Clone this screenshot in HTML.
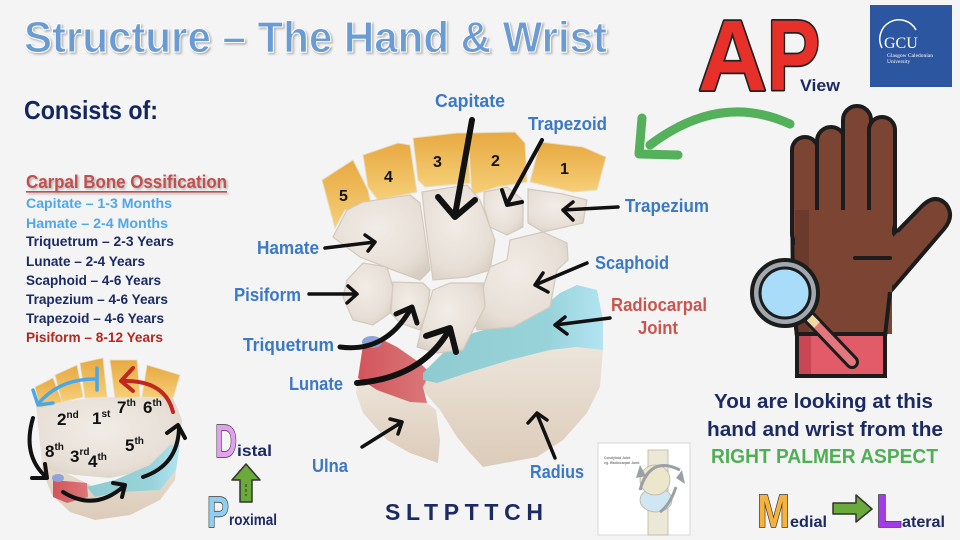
<!DOCTYPE html>
<html><head><meta charset="utf-8">
<style>
html,body{margin:0;padding:0;background:#f4f4f4;}
svg{display:block;}
text{font-family:"Liberation Sans",sans-serif;font-weight:bold;}
</style></head><body>
<svg width="960" height="540" viewBox="0 0 960 540" xmlns="http://www.w3.org/2000/svg">
<defs>
 <filter id="sh" x="-5%" y="-20%" width="110%" height="150%"><feDropShadow dx="1.5" dy="1.5" stdDeviation="1" flood-color="#777" flood-opacity="0.55"/></filter>
 <linearGradient id="gold" x1="0" y1="0" x2="0" y2="1"><stop offset="0" stop-color="#e7a941"/><stop offset="1" stop-color="#f6cf78"/></linearGradient>
 <radialGradient id="bn" cx="0.45" cy="0.4" r="0.7"><stop offset="0" stop-color="#f1ece6"/><stop offset="0.7" stop-color="#e7dfd6"/><stop offset="1" stop-color="#d6ccc1"/></radialGradient>
 <linearGradient id="rad" x1="0" y1="0" x2="0" y2="1"><stop offset="0" stop-color="#ece4da"/><stop offset="1" stop-color="#dccbb9"/></linearGradient>
 <linearGradient id="blu" x1="0" y1="0" x2="1" y2="0"><stop offset="0" stop-color="#8ecbd0"/><stop offset="0.7" stop-color="#99d3da"/><stop offset="1" stop-color="#b2e4f2"/></linearGradient>
 <linearGradient id="red" x1="0" y1="0" x2="1" y2="0"><stop offset="0" stop-color="#d2555b"/><stop offset="1" stop-color="#d9787a"/></linearGradient>
</defs>
<rect width="960" height="540" fill="#f4f4f4"/>

<!-- Title -->
<text x="24" y="52" font-size="44" fill="#6b9bd3" stroke="#ffffff" stroke-width="1" textLength="583" lengthAdjust="spacingAndGlyphs" filter="url(#sh)">Structure – The Hand &amp; Wrist</text>

<text x="24" y="119" font-size="26" fill="#132660" textLength="134" lengthAdjust="spacingAndGlyphs">Consists of:</text>

<!-- List -->
<g filter="url(#sh)">
<text x="26" y="188" font-size="18" fill="#c0504d" textLength="201" lengthAdjust="spacingAndGlyphs">Carpal Bone Ossification</text>
<rect x="26" y="191" width="201" height="1.6" fill="#c0504d"/>
</g>
<g font-size="14">
<text x="26" y="208" fill="#4ea7ea" textLength="146" lengthAdjust="spacingAndGlyphs">Capitate – 1-3 Months</text>
<text x="26" y="228" fill="#4ea7ea" textLength="142" lengthAdjust="spacingAndGlyphs">Hamate – 2-4 Months</text>
<text x="26" y="246" fill="#1b2a63" textLength="148" lengthAdjust="spacingAndGlyphs">Triquetrum – 2-3 Years</text>
<text x="26" y="266" fill="#1b2a63" textLength="119" lengthAdjust="spacingAndGlyphs">Lunate – 2-4 Years</text>
<text x="26" y="285" fill="#1b2a63" textLength="135" lengthAdjust="spacingAndGlyphs">Scaphoid – 4-6 Years</text>
<text x="26" y="304" fill="#1b2a63" textLength="142" lengthAdjust="spacingAndGlyphs">Trapezium – 4-6 Years</text>
<text x="26" y="323" fill="#1b2a63" textLength="138" lengthAdjust="spacingAndGlyphs">Trapezoid – 4-6 Years</text>
<text x="26" y="342" fill="#b5271f" textLength="137" lengthAdjust="spacingAndGlyphs">Pisiform – 8-12 Years</text>
</g>

<!-- ===== Central wrist image ===== -->
<g stroke="#e9ddc6" stroke-width="1">
<polygon fill="url(#gold)" points="322,180 353,160 368,190 372,210 345,210 335,228"/>
<polygon fill="url(#gold)" points="363,155 398,143 410,145 417,192 378,200 368,187"/>
<polygon fill="url(#gold)" points="413,138 457,133 467,133 470,183 425,187 418,180"/>
<polygon fill="url(#gold)" points="468,133 515,132 525,143 527,182 497,187 472,195"/>
<polygon fill="url(#gold)" points="540,142 583,147 606,157 597,190 573,192 530,182"/>
</g>
<!-- radius -->
<polygon fill="url(#rad)" points="422,380 443,377 470,370 510,360 550,350 577,347 603,350 600,387 587,413 563,440 537,457 483,467 470,453 457,437 440,410 425,393"/>
<!-- ulna -->
<polygon fill="url(#rad)" points="358,380 377,390 410,402 427,403 436,410 440,440 438,463 410,453 387,440 363,413 356,393"/>
<!-- red cartilage -->
<polygon fill="url(#red)" points="363,345 377,337 397,347 420,363 430,373 423,387 427,403 410,402 377,390 358,378"/>
<ellipse cx="372" cy="342" rx="10" ry="6" fill="#8fa3da"/>
<!-- blue band -->
<polygon fill="url(#blu)" points="423,373 443,353 473,333 510,323 543,307 560,293 577,285 597,290 603,320 603,350 577,347 550,350 510,360 467,373 437,383 423,380"/>
<!-- carpal bones -->
<g fill="url(#bn)" stroke="#d3c8bc" stroke-width="1.2">
<polygon points="333,237 347,210 363,202 410,195 420,203 430,270 420,280 393,270 360,257"/>
<polygon points="422,192 467,185 480,200 495,240 490,270 467,277 433,280 425,220"/>
<polygon points="484,192 507,187 523,200 523,227 507,235 490,227 484,207"/>
<polygon points="528,189 563,194 587,200 583,223 543,232 528,223"/>
<polygon points="510,240 543,232 567,243 568,260 557,270 550,307 513,327 477,330 473,317 490,267 507,260"/>
<polygon points="347,280 363,263 387,267 393,287 390,313 373,325 353,320 343,297"/>
<polygon points="393,282 423,283 430,290 427,313 420,330 400,323 391,313"/>
<polygon points="433,290 450,283 483,283 485,307 473,330 463,350 437,353 417,347 423,323"/>
</g>
<text x="339" y="201" font-size="16" fill="#111">5</text>
<text x="384" y="182" font-size="16" fill="#111">4</text>
<text x="433" y="167" font-size="16" fill="#111">3</text>
<text x="491" y="166" font-size="16" fill="#111">2</text>
<text x="560" y="174" font-size="16" fill="#111">1</text>

<!-- arrows -->
<g fill="none" stroke="#111" stroke-linecap="round" stroke-linejoin="round">
<path d="M472,120 L455,215" stroke-width="6"/>
<path d="M438,197 L455,217 L475,200" stroke-width="6"/>
<path d="M542,140 L507,204" stroke-width="4"/>
<path d="M502,190 L507,205 L522,202" stroke-width="4"/>
<path d="M618,207 L563,210 M573,202 L563,210 L573,220" stroke-width="3.5"/>
<path d="M325,248 L375,242 M365,235 L375,242 L368,251" stroke-width="3.5"/>
<path d="M309,294 L357,294 M348,286 L357,294 L347,303" stroke-width="3.5"/>
<path d="M587,263 L535,285 M543,273 L535,285 L548,292" stroke-width="3.5"/>
<path d="M610,318 L555,325 M565,317 L555,325 L567,334" stroke-width="3.5"/>
<path d="M340,347 Q385,353 410,310" stroke-width="5"/>
<path d="M396,314 L412,307 L417,323" stroke-width="5"/>
<path d="M357,383 Q420,378 448,332" stroke-width="6"/>
<path d="M426,336 L450,328 L456,352" stroke-width="6"/>
<path d="M362,447 L402,422 M390,419 L402,422 L398,434" stroke-width="3.5"/>
<path d="M555,458 L537,414 M528,423 L537,413 L547,420" stroke-width="3.5"/>
</g>

<!-- labels -->
<g fill="#3b78c6">
<text x="435" y="107" font-size="18" textLength="70" lengthAdjust="spacingAndGlyphs">Capitate</text>
<text x="528" y="130" font-size="18" textLength="79" lengthAdjust="spacingAndGlyphs">Trapezoid</text>
<text x="625" y="212" font-size="18" textLength="84" lengthAdjust="spacingAndGlyphs">Trapezium</text>
<text x="257" y="254" font-size="18" textLength="62" lengthAdjust="spacingAndGlyphs">Hamate</text>
<text x="595" y="269" font-size="18" textLength="74" lengthAdjust="spacingAndGlyphs">Scaphoid</text>
<text x="234" y="301" font-size="18" textLength="67" lengthAdjust="spacingAndGlyphs">Pisiform</text>
<text x="243" y="351" font-size="18" textLength="91" lengthAdjust="spacingAndGlyphs">Triquetrum</text>
<text x="289" y="390" font-size="18" textLength="54" lengthAdjust="spacingAndGlyphs">Lunate</text>
<text x="312" y="472" font-size="18" textLength="36" lengthAdjust="spacingAndGlyphs">Ulna</text>
<text x="530" y="478" font-size="18" textLength="54" lengthAdjust="spacingAndGlyphs">Radius</text>
</g>
<g fill="#c9554f">
<text x="611" y="311" font-size="18" textLength="96" lengthAdjust="spacingAndGlyphs">Radiocarpal</text>
<text x="638" y="334" font-size="18" textLength="40" lengthAdjust="spacingAndGlyphs">Joint</text>
</g>

<text x="385" y="520" font-size="23" fill="#1b2a63" textLength="158" lengthAdjust="spacing">SLTPTTCH</text>

<!-- ===== Bottom-left small wrist circle ===== -->
<polygon fill="url(#rad)" points="40,440 60,470 100,490 178,450 175,480 160,500 130,515 95,520 70,512 52,495 42,470"/>
<polygon fill="url(#bn)" points="36,405 100,397 173,398 182,420 178,455 150,470 110,478 75,475 50,470 40,445"/>
<polygon fill="url(#blu)" points="87,487 115,480 150,465 170,445 180,445 176,470 160,490 120,492 95,497"/>
<polygon fill="url(#red)" points="53,480 87,483 88,497 67,503 53,497"/>
<ellipse cx="58" cy="478" rx="6" ry="4" fill="#8fa3da"/>
<g stroke="#e9ddc6" stroke-width="0.8">
<polygon fill="url(#gold)" points="35,387 53,378 62,402 40,408"/>
<polygon fill="url(#gold)" points="55,375 77,365 83,397 62,402"/>
<polygon fill="url(#gold)" points="80,363 103,358 107,397 85,398"/>
<polygon fill="url(#gold)" points="110,360 137,360 140,397 115,398"/>
<polygon fill="url(#gold)" points="147,365 180,375 173,398 142,397"/>
</g>
<g font-size="17" fill="#111">
<text x="57" y="425">2<tspan font-size="10" dy="-7">nd</tspan></text>
<text x="92" y="424">1<tspan font-size="10" dy="-7">st</tspan></text>
<text x="117" y="413">7<tspan font-size="10" dy="-7">th</tspan></text>
<text x="143" y="413">6<tspan font-size="10" dy="-7">th</tspan></text>
<text x="45" y="457">8<tspan font-size="10" dy="-7">th</tspan></text>
<text x="70" y="462">3<tspan font-size="10" dy="-7">rd</tspan></text>
<text x="88" y="467">4<tspan font-size="10" dy="-7">th</tspan></text>
<text x="125" y="451">5<tspan font-size="10" dy="-7">th</tspan></text>
</g>
<g fill="none" stroke-linecap="round" stroke-linejoin="round">
<path d="M97,368 L97,390" stroke="#4aa8e8" stroke-width="3.5"/>
<path d="M97,379 Q60,378 38,404" stroke="#4aa8e8" stroke-width="3.5"/>
<path d="M33,390 L38,405 L53,403" stroke="#4aa8e8" stroke-width="3.5"/>
<path d="M173,412 Q165,380 123,381" stroke="#c0281f" stroke-width="4"/>
<path d="M133,368 L121,381 L133,391" stroke="#c0281f" stroke-width="4"/>
<path d="M33,418 Q22,455 46,477" stroke="#111" stroke-width="4"/>
<path d="M32,478 L47,478 L45,464" stroke="#111" stroke-width="4"/>
<path d="M63,492 Q95,512 124,486" stroke="#111" stroke-width="4"/>
<path d="M113,483 L125,485 L122,497" stroke="#111" stroke-width="4"/>
<path d="M143,477 Q178,465 179,428" stroke="#111" stroke-width="4"/>
<path d="M167,433 L178,425 L185,438" stroke="#111" stroke-width="4"/>
</g>

<!-- Distal / Proximal -->
<text x="215" y="457" font-size="46" fill="#e3a0f0" stroke="#333" stroke-width="1.5" paint-order="stroke" textLength="22" lengthAdjust="spacingAndGlyphs">D</text>
<text x="237" y="456" font-size="16" fill="#1b2a63" textLength="35" lengthAdjust="spacingAndGlyphs">istal</text>
<polygon points="246,464 260,480 252,480 252,502 240,502 240,480 232,480" fill="#6aaa3a" stroke="#333" stroke-width="1.5" stroke-linejoin="round"/>
<line x1="246" y1="484" x2="246" y2="496" stroke="#333" stroke-width="1" stroke-dasharray="3,2"/>
<text x="207" y="527" font-size="44" fill="#8fd0f2" stroke="#333" stroke-width="1.5" paint-order="stroke" textLength="22" lengthAdjust="spacingAndGlyphs">P</text>
<text x="229" y="525" font-size="16" fill="#1b2a63" textLength="48" lengthAdjust="spacingAndGlyphs">roximal</text>

<!-- small joint diagram -->
<rect x="598" y="443" width="92" height="92" fill="#ffffff" stroke="#d8d8d8" stroke-width="1"/>
<rect x="648" y="450" width="20" height="85" fill="#ece8d6" stroke="#b9b49c" stroke-width="0.8"/>
<ellipse cx="656" cy="500" rx="16" ry="12" fill="#cfe6f3" stroke="#b9b49c" stroke-width="0.8"/>
<circle cx="655" cy="480" r="15" fill="#ece6cc" stroke="#b9b49c" stroke-width="0.8"/>
<path d="M640,490 Q650,455 680,470" fill="none" stroke="#9aa0a6" stroke-width="3"/>
<path d="M676,487 Q670,505 660,512" fill="none" stroke="#9aa0a6" stroke-width="3"/>
<path d="M640,465 L636,478 L646,476 Z M682,470 L685,484 L676,478 Z" fill="#9aa0a6"/>
<text x="604" y="459" font-size="3.5" fill="#777" font-weight="normal">Condyloid Joint</text>
<text x="604" y="464" font-size="3.5" fill="#777" font-weight="normal">eg. Radiocarpal Joint</text>

<!-- Right text -->
<g font-size="20" text-anchor="start">
<text x="714" y="408" fill="#1b2a63" textLength="219" lengthAdjust="spacingAndGlyphs">You are looking at this</text>
<text x="707" y="436" fill="#1b2a63" textLength="236" lengthAdjust="spacingAndGlyphs">hand and wrist from the</text>
<text x="711" y="463" fill="#50ae55" textLength="227" lengthAdjust="spacingAndGlyphs">RIGHT PALMER ASPECT</text>
</g>

<!-- Medial -> Lateral -->
<text x="757" y="527" font-size="46" fill="#f5b23e" stroke="#333" stroke-width="1.5" paint-order="stroke" textLength="33" lengthAdjust="spacingAndGlyphs">M</text>
<text x="790" y="527" font-size="16" fill="#1b2a63" textLength="37" lengthAdjust="spacingAndGlyphs">edial</text>
<polygon points="833,503 856,503 856,495 872,509 856,522 856,514 833,514" fill="#6aaa3a" stroke="#333" stroke-width="1.5" stroke-linejoin="round"/>
<text x="876" y="527" font-size="46" fill="#a33be6" stroke="#333" stroke-width="1.5" paint-order="stroke" textLength="26" lengthAdjust="spacingAndGlyphs">L</text>
<text x="902" y="527" font-size="16" fill="#1b2a63" textLength="43" lengthAdjust="spacingAndGlyphs">ateral</text>

<!-- AP View -->
<text x="698" y="90" font-size="100" fill="#e8302a" stroke="#222" stroke-width="3.5" stroke-linejoin="round" paint-order="stroke" textLength="69" lengthAdjust="spacingAndGlyphs">A</text>
<text x="767" y="90" font-size="100" fill="#e8302a" stroke="#222" stroke-width="3.5" stroke-linejoin="round" paint-order="stroke" textLength="53" lengthAdjust="spacingAndGlyphs">P</text>
<text x="800" y="91" font-size="17" fill="#1b2a63" textLength="40" lengthAdjust="spacingAndGlyphs">View</text>

<!-- GCU logo -->
<rect x="870" y="5" width="82" height="82" fill="#2d56a1"/>
<path d="M882,48 A19,19 0 0 1 916,30" fill="none" stroke="#fff" stroke-width="1.5"/>
<text x="884" y="48" font-size="16" fill="#fff" style="font-family:'Liberation Serif',serif;font-weight:normal">GCU</text>
<text x="887" y="57" font-size="5.5" fill="#fff" style="font-family:'Liberation Serif',serif;font-weight:normal">Glasgow Caledonian</text>
<text x="887" y="63" font-size="5.5" fill="#fff" style="font-family:'Liberation Serif',serif;font-weight:normal">University</text>

<!-- green curved arrow -->
<g fill="none" stroke="#54b05a" stroke-width="9" stroke-linecap="round" stroke-linejoin="round">
<path d="M790,124 Q720,92 650,145"/>
<path d="M642,118 L639,154 L678,155"/>
</g>

<!-- Hand -->
<g stroke="#1c1c1c" stroke-width="4" stroke-linejoin="round" fill="#7b4433">
<path d="M884,245 L922,206 Q935,193 946,204 Q955,216 944,229 L890,292 Z"/>
<path d="M792,185 L895,185 L895,240 L889,300 L885,336 L797,336 L793,300 Z"/>
<rect x="792" y="137" width="26" height="110" rx="13"/>
<rect x="817" y="127" width="28" height="115" rx="14"/>
<rect x="843" y="106" width="28" height="130" rx="14"/>
<rect x="869" y="117" width="26" height="120" rx="13"/>
</g>
<rect x="795" y="210" width="97" height="124" fill="#7b4433"/>
<polygon points="882,248 898,232 906,240 893,284 884,290" fill="#7b4433"/>
<rect x="795" y="210" width="14" height="124" fill="#6b3a2c"/>
<path d="M855,258 L890,258" stroke="#1c1c1c" stroke-width="4" stroke-linecap="round"/>
<path d="M890,292 L885,336 M793,300 L797,336" stroke="#1c1c1c" stroke-width="4"/>
<!-- cuff -->
<rect x="797" y="334" width="88" height="42" fill="#e25b68" stroke="#1c1c1c" stroke-width="4"/>
<rect x="799" y="336" width="12" height="38" fill="#c94655"/>
<!-- magnifier -->
<line x1="810" y1="318" x2="852" y2="362" stroke="#1c1c1c" stroke-width="14" stroke-linecap="round"/>
<line x1="810" y1="318" x2="852" y2="362" stroke="#e3777e" stroke-width="8" stroke-linecap="round"/>
<line x1="808" y1="316" x2="817" y2="325" stroke="#f0d8a0" stroke-width="8"/>
<circle cx="785" cy="293" r="33" fill="#a0a8b0" stroke="#1c1c1c" stroke-width="4"/>
<circle cx="785" cy="293" r="25" fill="#a8dcf8" stroke="#1c1c1c" stroke-width="3"/>
</svg>
</body></html>
